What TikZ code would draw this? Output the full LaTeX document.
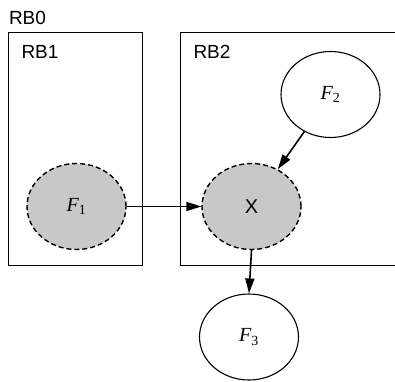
\documentclass[tikz,border=0pt]{standalone}
\usepackage{fontspec}
\setmainfont{Liberation Serif}
\setsansfont{Liberation Sans}
\usepackage{tikz}
\usetikzlibrary{arrows.meta,positioning,shapes.geometric}
\definecolor{nodeGray}{RGB}{200,200,200}

\tikzset{
  rvar/.style={ellipse, draw, line width=1.1pt, minimum width=99pt, minimum height=86pt, inner sep=0pt, font=\fontsize{20}{22}\selectfont},
  hidden/.style={rvar, fill=nodeGray, line width=1.4pt, dash pattern=on 5pt off 3pt},
  plate/.style={draw, line width=1pt},
  platelabel/.style={font=\sffamily\fontsize{19}{21}\selectfont, inner sep=0pt},
  edge/.style={line width=1.6pt, -{Triangle[length=15pt,width=9pt]}}
}

\begin{document}
\begin{tikzpicture}[x=1pt,y=1pt]
    \useasboundingbox (0,0) rectangle (395,381);
    \clip (0,0) rectangle (395,381);
    % Plates
    \node[platelabel] (rb0) at (27.5, 363) {RB0};
    \draw[plate] (8, 348) rectangle (142, 116);
    \node[platelabel] (rb1) at (40, 329) {RB1};
    \draw[plate] (180, 348) rectangle (410, 116);
    \node[platelabel] (rb2) at (212, 329) {RB2};
    % Variables
    \node[hidden] (f1) at (76.5, 174.5) {\textit{F}\textsubscript{1}};
    \node[hidden, font=\sffamily\fontsize{20}{22}\selectfont] (x) at (251.5, 174.5) {X};
    \node[rvar] (f2) at (330.5, 286.5) {\textit{F}\textsubscript{2}};
    \node[rvar] (f3) at (249, 44) {\textit{F}\textsubscript{3}};
    % Dependencies
    \draw[edge] (f1.east) -- (x.west);
    \draw[edge] (f2) -- (x);
    \draw[edge] (x.south) -- (f3.north);
\end{tikzpicture}
\end{document}
